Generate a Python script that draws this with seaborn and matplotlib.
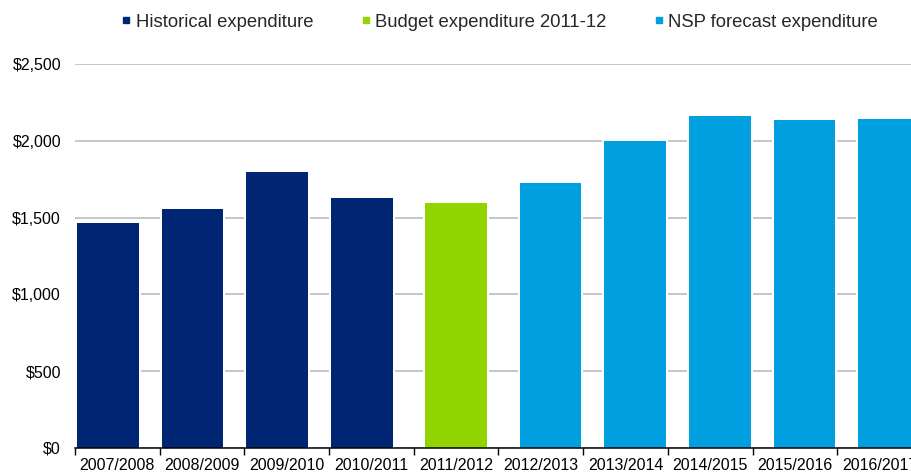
import matplotlib
matplotlib.use("Agg")
import matplotlib.pyplot as plt
import matplotlib.patheffects as pe
from matplotlib.lines import Line2D
import seaborn as sns
import pandas as pd

# Annual expenditure ($), by financial year
years = ["2007/2008", "2008/2009", "2009/2010", "2010/2011", "2011/2012",
         "2012/2013", "2013/2014", "2014/2015", "2015/2016", "2016/2017"]
expenditure = [1465, 1556, 1796, 1626, 1597, 1727, 2000, 2162, 2134, 2143]
series = ["Historical expenditure"] * 4 + ["Budget expenditure 2011-12"] + \
         ["NSP forecast expenditure"] * 5

series_order = ["Historical expenditure", "Budget expenditure 2011-12",
                "NSP forecast expenditure"]
series_colors = ["#002673", "#92D400", "#00A0E0"]
y_ticks = [0, 500, 1000, 1500, 2000, 2500]
y_tick_labels = ["$0", "$500", "$1,000", "$1,500", "$2,000", "$2,500"]

df = pd.DataFrame({"year": years, "expenditure": expenditure, "series": series})

sns.set_theme(style="white")
plt.rcParams["font.family"] = ["Liberation Sans", "DejaVu Sans"]

fig = plt.figure(figsize=(9.12, 4.73), dpi=100)
ax = fig.add_axes([0.0822, 0.0529, 0.9288, 0.8118])

sns.barplot(data=df, x="year", y="expenditure", hue="series",
            hue_order=series_order, palette=series_colors, saturation=1,
            dodge=False, width=0.73, linewidth=0, legend=False,
            ax=ax, zorder=2)

# clustered-series offsets within each category slot, plus a thin white
# halo so the gridlines stop short of each bar
offsets = [-0.113, 0.0, 0.113]
halo = [pe.Stroke(linewidth=3, foreground="white"), pe.Normal()]
for container, off in zip(ax.containers, offsets):
    for patch in container:
        patch.set_x(patch.get_x() + off)
        patch.set_path_effects(halo)

ax.set_xlim(-0.5, len(years) - 0.5)
ax.set_ylim(0, 2500)
ax.set_yticks(y_ticks)
ax.set_yticklabels(y_tick_labels)
ax.yaxis.grid(True, color="#C0C0C0", linewidth=1.3, zorder=0)
ax.set_axisbelow(True)
ax.set_xlabel("")
ax.set_ylabel("")

# category boundary ticks with labels centred in each slot
ax.set_xticks([i - 0.5 for i in range(len(years) + 1)], minor=False)
ax.set_xticklabels([""] * (len(years) + 1))
ax.set_xticks(range(len(years)), minor=True)
ax.set_xticklabels(years, minor=True)
ax.tick_params(axis="x", which="major", length=5, width=1, color="black",
               direction="out", bottom=True)
ax.tick_params(axis="x", which="minor", length=0, pad=7, labelsize=11.5,
               labelcolor="black")
ax.tick_params(axis="y", length=0, pad=10, labelsize=11.5, labelcolor="black")

for side in ["top", "right", "left"]:
    ax.spines[side].set_visible(False)
ax.spines["bottom"].set_color("black")
ax.spines["bottom"].set_linewidth(1.1)
ax.spines["bottom"].set_zorder(3)

handles = [Line2D([0], [0], marker="s", linestyle="none", markersize=4.5,
                  markerfacecolor=c, markeredgecolor=c) for c in series_colors]
fig.legend(handles, series_order, loc="center", bbox_to_anchor=(0.548, 0.953),
           ncol=3, frameon=False, fontsize=13.3, handlelength=0.5,
           handletextpad=0.25, columnspacing=2.6)

fig.savefig("out.png", dpi=100)
